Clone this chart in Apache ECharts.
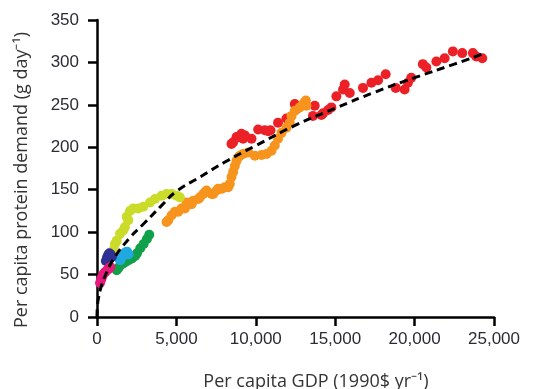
<!DOCTYPE html>
<html>
<head>
<meta charset="utf-8">
<script src="https://cdn.jsdelivr.net/npm/echarts@6/dist/echarts.min.js"></script>
<style>
html,body{margin:0;padding:0;background:#fff;}
#chart{width:541px;height:389px;}
</style>
</head>
<body>
<div id="chart"></div>
<script>
// ---- data ----
const redX = [8470, 8575, 8785, 8890, 9100, 9200, 9310, 9730, 10150, 10570, 10780, 10925, 11400, 11930, 12455, 12560, 13600, 13710, 14130, 14234, 14550, 14760, 15075, 15495, 15600, 15915, 16750, 17280, 17700, 18180, 18810, 19370, 19580, 19790, 20520, 20740, 21370, 21890, 22410, 23000, 23670, 23880, 24260];
const redY = [204, 206, 212, 212, 216, 210, 214, 210, 221, 220, 219, 220, 229, 234, 251, 245, 237, 249, 238, 240, 244, 247, 260, 268, 274, 264, 270, 276, 279, 286, 270, 268, 276, 282, 298, 294, 301, 305, 313, 311, 311, 307, 305];

const orangeX = [4380, 4485, 4700, 4905, 5115, 5325, 5535, 5640, 5955, 6060, 6375, 6480, 6690, 6795, 6900, 7215, 7320, 7530, 7630, 7840, 8050, 8260, 8365, 8470, 8575, 8680, 8785, 8890, 8995, 9200, 9520, 9940, 10360, 10675, 10990, 11195, 11400, 11620, 11930, 12140, 12250, 12455, 12770, 12975, 13080, 13150, 13190];
const orangeY = [112, 114, 120, 124, 124, 128, 128, 135, 133, 137, 139, 141, 145, 147, 149, 145, 145, 149, 151, 151, 153, 153, 157, 165, 171, 178, 184, 188, 190, 192, 194, 190, 191, 192, 196, 202, 210, 217, 223, 229, 237, 243, 247, 251, 253, 255, 249];

const yellowX = [1030, 1130, 1240, 1450, 1650, 1760, 1870, 1970, 2075, 2285, 2600, 2910, 3335, 3650, 4070, 4380, 4700, 5010, 5220];
const yellowY = [79, 86, 90, 98, 102, 106, 118, 114, 125, 128, 128, 130, 135, 139, 143, 145, 145, 143, 141];

const greenX = [1240, 1360, 1470, 1650, 1780, 1990, 2200, 2400, 2515, 2725, 2935, 3145, 3290];
const greenY = [55, 58, 61, 63, 65, 67, 69, 72, 75, 81, 86, 92, 97];

const cyanX = [1365, 1470, 1580, 1680, 1780, 1890, 1990];
const cyanY = [69, 67, 71, 73, 76, 77, 74];

const navyX = [560, 630, 700, 775, 860, 940];
const navyY = [66, 70, 73, 75, 74, 71];

const pinkX = [190, 260, 315, 420, 520, 630, 730, 840];
const pinkY = [40, 44, 47, 51, 53, 55, 57, 59];

const fitX = [0, 30, 100, 250, 500, 1000, 2000, 3000, 4000, 5000, 6500, 8000, 10000, 12500, 15000, 17500, 20000, 22500, 24300];
const fitY = [0, 14, 23, 35, 48, 67, 92, 111, 130, 148, 165, 182, 202, 226, 246, 265, 282, 298, 310];

const xTicks = [0, 5000, 10000, 15000, 20000, 25000];
const yTicks = [0, 50, 100, 150, 200, 250, 300, 350];
const xTitle = 'Per capita GDP (1990$ yr\u207B\u00B9)';
const yTitle = 'Per capita protein demand (g day\u207B\u00B9)';

function pairs(xs, ys){ return xs.map((x,i)=>[x, ys[i]]); }

const chart = echarts.init(document.getElementById('chart'), null, {renderer:'canvas'});
const labelStyle = {color:'#2b2b35', fontFamily:'Liberation Sans, Arial, sans-serif', fontSize:17};
const axisLine = {show:true, onZero:false, lineStyle:{color:'#000', width:2.5}};
const axisTick = {show:true, inside:false, length:9, lineStyle:{color:'#000', width:2.5}};

function scatter(name, xs, ys, color){
  return {name, type:'scatter', data:pairs(xs,ys), symbol:'circle', symbolSize:10,
    itemStyle:{color, opacity:1}, z:2, animation:false};
}

chart.setOption({
  animation:false,
  grid:{left:97, right:47, top:20, bottom:72, containLabel:false},
  xAxis:{type:'value', min:xTicks[0], max:xTicks[xTicks.length-1], interval:5000,
    axisLine, axisTick, splitLine:{show:false},
    axisLabel:Object.assign({margin:14, formatter:v=>v.toLocaleString('en-US')}, labelStyle)},
  yAxis:{type:'value', min:yTicks[0], max:yTicks[yTicks.length-1], interval:50,
    axisLine, axisTick, splitLine:{show:false},
    axisLabel:Object.assign({margin:18}, labelStyle)},
  graphic:[
    {type:'text', x:316, y:382, style:{text:xTitle, fill:'#333', font:'18px "Open Sans", sans-serif', align:'center', verticalAlign:'middle'}},
    {type:'text', x:22, y:180, rotation:Math.PI/2, style:{text:yTitle, fill:'#333', font:'18px "Open Sans", sans-serif', align:'center', verticalAlign:'middle'}}
  ],
  series:[
    scatter('red', redX, redY, '#ec2127'),
    scatter('orange', orangeX, orangeY, '#f7941d'),
    scatter('yellowgreen', yellowX, yellowY, '#cbdb2a'),
    scatter('green', greenX, greenY, '#10a04a'),
    scatter('cyan', cyanX, cyanY, '#22a8e0'),
    scatter('navy', navyX, navyY, '#2e3192'),
    scatter('pink', pinkX, pinkY, '#e8197c'),
    {name:'fit', type:'line', data:pairs(fitX, fitY), smooth:true, showSymbol:false, symbol:'none',
      lineStyle:{color:'#000', width:3, type:[8,5]}, z:5, animation:false}
  ]
});
</script>
</body>
</html>
